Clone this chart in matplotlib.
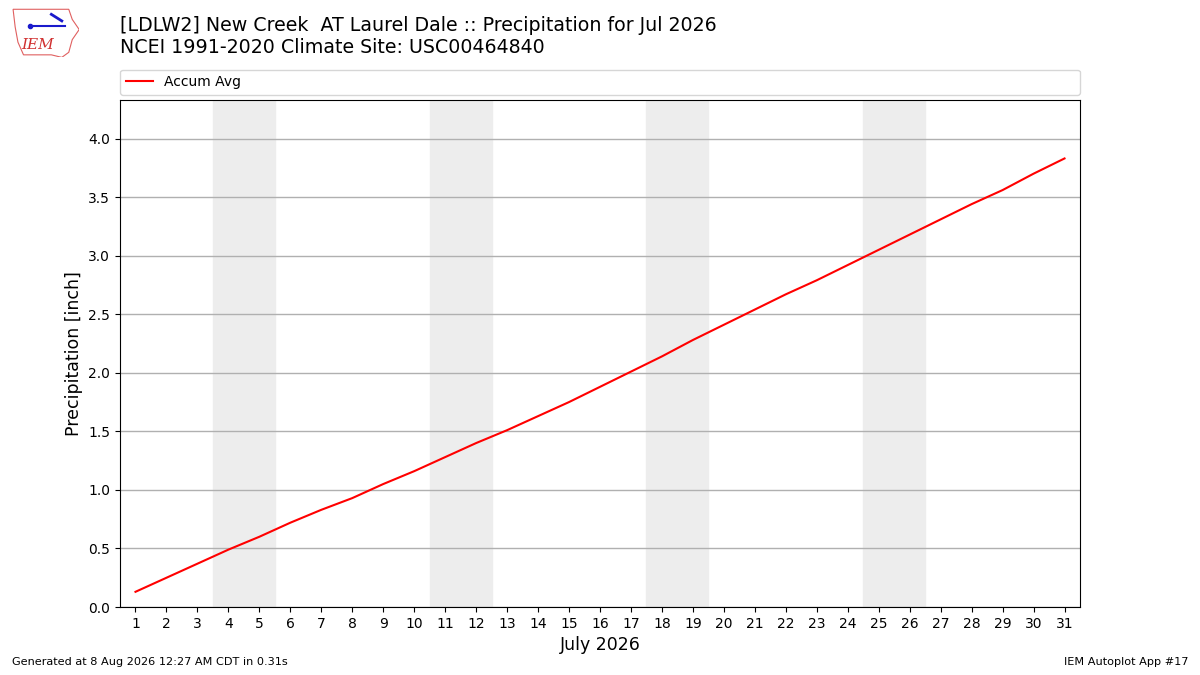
import numpy as np
import matplotlib
matplotlib.use("Agg")
import matplotlib.pyplot as plt
from matplotlib.patches import Polygon

# accumulated average precipitation (inch) for each day of July
days = list(range(1, 32))
accum_avg = [0.13, 0.25, 0.37, 0.49, 0.60, 0.72, 0.83, 0.93, 1.05, 1.16,
             1.28, 1.40, 1.51, 1.63, 1.75, 1.88, 2.01, 2.14, 2.28, 2.41,
             2.54, 2.67, 2.79, 2.92, 3.05, 3.18, 3.31, 3.44, 3.56, 3.70,
             3.83]
# weekends (Sat, Sun) in July 2026
weekend_starts = [4, 11, 18, 25]

fig = plt.figure(figsize=(12, 6.75), dpi=100)
ax = fig.add_axes([0.1, 0.1007, 0.8, 0.7513])

for d in weekend_starts:
    ax.axvspan(d - 0.5, d + 1.5, color="#ededed", zorder=0)

ax.plot(days, accum_avg, color="red", lw=1.5, label="Accum Avg", zorder=3)

ax.set_xlim(0.5, 31.5)
ax.set_ylim(0, 4.33)
ax.set_xticks(days)
ax.set_yticks(np.arange(0, 4.01, 0.5))
ax.grid(axis="y", color="#b0b0b0", lw=1)
ax.set_axisbelow(True)
ax.set_xlabel("July 2026", fontsize=12.5)
ax.set_ylabel("Precipitation [inch]", fontsize=12.5)

ax.legend(loc="lower left", bbox_to_anchor=(0, 1.01, 1, 0.05), mode="expand",
          ncol=1, fontsize=10, borderaxespad=0)

fig.text(0.1, 0.962, "[LDLW2] New Creek  AT Laurel Dale :: Precipitation for Jul 2026",
         fontsize=13.65, va="center")
fig.text(0.1, 0.929, "NCEI 1991-2020 Climate Site: USC00464840", fontsize=13.65, va="center")

fig.text(0.01, 0.015, "Generated at 8 Aug 2026 12:27 AM CDT in 0.31s", fontsize=8.15)
fig.text(0.99, 0.015, "IEM Autoplot App #17", fontsize=8.15, ha="right")

# rough IEM logo
lax = fig.add_axes([0.008, 0.915, 0.058, 0.075])
lax.axis("off")
lax.set_xlim(0, 1)
lax.set_ylim(0, 1)
outline = [(0.05, 0.95), (0.85, 0.95), (0.9, 0.75), (1.0, 0.55), (0.9, 0.35),
           (0.85, 0.1), (0.75, 0.0), (0.6, 0.05), (0.2, 0.05), (0.12, 0.3),
           (0.08, 0.6)]
lax.add_patch(Polygon(outline, closed=True, fill=False, edgecolor="#e06060", lw=0.8))
lax.plot([0.3, 0.8], [0.62, 0.62], color="#1a1acc", lw=1.5)
lax.plot([0.3], [0.62], "o", color="#1a1acc", ms=3)
lax.plot([0.6, 0.75], [0.85, 0.72], color="#1a1acc", lw=2)
lax.text(0.4, 0.25, "IEM", color="#d03030", fontsize=11, family="serif",
         style="italic", ha="center", va="center")

fig.savefig("out.png", dpi=100)
